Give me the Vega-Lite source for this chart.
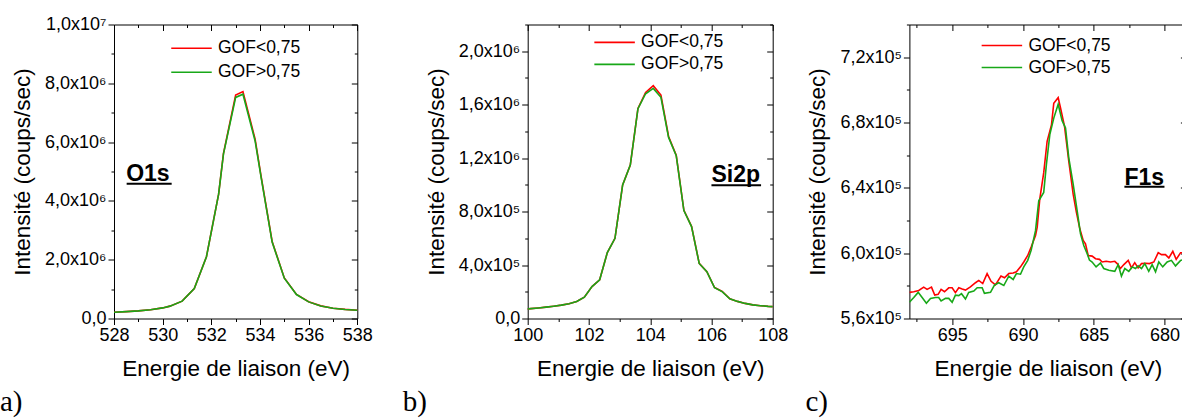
{
  "$schema": "https://vega.github.io/schema/vega-lite/v6.json",
  "padding": {"left": 0, "top": 15.5, "right": 0, "bottom": 0},
  "spacing": 136.7,
  "bounds": "flush",
  "resolve": {"scale": {"color": "independent"}, "legend": {"color": "independent"}},
  "config": {
    "view": {"stroke": null},
    "font": "Liberation Sans",
    "axis": {"domainColor": "#000000", "domainWidth": 1, "tickColor": "#000000", "tickWidth": 1, "labelColor": "#000000", "titleColor": "#000000", "labelFont": "Liberation Sans", "labelFontSize": 18, "titleFont": "Liberation Sans", "titleFontSize": 22.5, "titleFontWeight": "normal", "grid": false, "labelOverlap": false, "labelFlush": false, "labelBound": false, "labelPadding": 2},
    "legend": {"title": null, "orient": "none", "padding": 0, "rowPadding": 0, "symbolType": "stroke", "symbolSize": 1640, "symbolStrokeWidth": 1.6, "labelFont": "Liberation Sans", "labelFontSize": 17.5, "labelColor": "#000000", "labelOffset": 5},
    "title": {"font": "Liberation Serif", "fontSize": 29, "fontWeight": "normal", "color": "#000000", "orient": "bottom", "anchor": "start", "frame": "group", "baseline": "alphabetic"}
  },
  "hconcat": [
    {
      "width": 276.6,
      "height": 294,
      "title": {"text": "a)", "dx": -114, "offset": 8},
      "layer": [
        {
          "data": {"values": [
            {"E": 528, "I": 210000, "s": "GOF<0,75"},
            {"E": 528.5, "I": 235000, "s": "GOF<0,75"},
            {"E": 529, "I": 260000, "s": "GOF<0,75"},
            {"E": 529.5, "I": 300000, "s": "GOF<0,75"},
            {"E": 530, "I": 360000, "s": "GOF<0,75"},
            {"E": 530.3, "I": 420000, "s": "GOF<0,75"},
            {"E": 530.8, "I": 590000, "s": "GOF<0,75"},
            {"E": 531.3, "I": 1020000, "s": "GOF<0,75"},
            {"E": 531.8, "I": 2100000, "s": "GOF<0,75"},
            {"E": 532.3, "I": 4230000, "s": "GOF<0,75"},
            {"E": 532.5, "I": 5620000, "s": "GOF<0,75"},
            {"E": 533.0, "I": 7600000, "s": "GOF<0,75"},
            {"E": 533.3, "I": 7720000, "s": "GOF<0,75"},
            {"E": 533.8, "I": 6100000, "s": "GOF<0,75"},
            {"E": 534.05, "I": 4820000, "s": "GOF<0,75"},
            {"E": 534.5, "I": 2620000, "s": "GOF<0,75"},
            {"E": 535.0, "I": 1380000, "s": "GOF<0,75"},
            {"E": 535.5, "I": 820000, "s": "GOF<0,75"},
            {"E": 536.0, "I": 570000, "s": "GOF<0,75"},
            {"E": 536.5, "I": 430000, "s": "GOF<0,75"},
            {"E": 537.0, "I": 350000, "s": "GOF<0,75"},
            {"E": 537.5, "I": 310000, "s": "GOF<0,75"},
            {"E": 538, "I": 280000, "s": "GOF<0,75"},
            {"E": 528, "I": 210000, "s": "GOF>0,75"},
            {"E": 528.5, "I": 235000, "s": "GOF>0,75"},
            {"E": 529, "I": 260000, "s": "GOF>0,75"},
            {"E": 529.5, "I": 300000, "s": "GOF>0,75"},
            {"E": 530, "I": 360000, "s": "GOF>0,75"},
            {"E": 530.3, "I": 420000, "s": "GOF>0,75"},
            {"E": 530.8, "I": 590000, "s": "GOF>0,75"},
            {"E": 531.3, "I": 1020000, "s": "GOF>0,75"},
            {"E": 531.8, "I": 2100000, "s": "GOF>0,75"},
            {"E": 532.3, "I": 4230000, "s": "GOF>0,75"},
            {"E": 532.5, "I": 5600000, "s": "GOF>0,75"},
            {"E": 533.0, "I": 7520000, "s": "GOF>0,75"},
            {"E": 533.3, "I": 7630000, "s": "GOF>0,75"},
            {"E": 533.8, "I": 6040000, "s": "GOF>0,75"},
            {"E": 534.05, "I": 4780000, "s": "GOF>0,75"},
            {"E": 534.5, "I": 2600000, "s": "GOF>0,75"},
            {"E": 535.0, "I": 1370000, "s": "GOF>0,75"},
            {"E": 535.5, "I": 815000, "s": "GOF>0,75"},
            {"E": 536.0, "I": 565000, "s": "GOF>0,75"},
            {"E": 536.5, "I": 428000, "s": "GOF>0,75"},
            {"E": 537.0, "I": 348000, "s": "GOF>0,75"},
            {"E": 537.5, "I": 308000, "s": "GOF>0,75"},
            {"E": 538, "I": 278000, "s": "GOF>0,75"}
          ]},
          "mark": {"type": "line", "strokeWidth": 1.6, "clip": true},
          "encoding": {
            "x": {"field": "E", "type": "quantitative", "scale": {"domain": [528, 538], "range": [0, 243.3], "nice": false, "zero": false},
              "axis": {"orient": "bottom", "values": [528, 529, 530, 531, 532, 533, 534, 535, 536, 537, 538], "labelExpr": "datum.value % 2 == 0 ? format(datum.value, 'd') : ''", "tickSize": {"condition": {"test": "datum.value % 2 != 0", "value": 3}, "value": 6}, "title": "Energie de liaison (eV)", "titlePadding": 13}},
            "y": {"field": "I", "type": "quantitative", "scale": {"domain": [0, 10000000], "nice": false, "zero": false},
              "axis": {"orient": "left", "values": [0, 1000000, 2000000, 3000000, 4000000, 5000000, 6000000, 7000000, 8000000, 9000000, 10000000], "labelExpr": "datum.value % 2000000 != 0 ? '' : (datum.value == 0 ? '0,0' : replace(format(datum.value / pow(10, floor(log(datum.value) / LN10 + 1e-9)), '.1f'), '.', ',') + 'x10' + substring('⁰¹²³⁴⁵⁶⁷⁸⁹', floor(log(datum.value) / LN10 + 1e-9), floor(log(datum.value) / LN10 + 1e-9) + 1))", "tickSize": {"condition": {"test": "datum.value % 2000000 != 0", "value": 3}, "value": 6}, "title": "Intensité (coups/sec)", "titlePadding": 10}},
            "color": {"field": "s", "type": "nominal", "scale": {"domain": ["GOF<0,75", "GOF>0,75"], "range": ["#ff0000", "#18a818"]},
              "legend": {"orient": "none", "legendX": 56, "legendY": 12, "clipHeight": 23.4}}
          }
        },
        {
          "data": {"values": [{"x": 528.5, "y": 4690000, "t": "O1s"}]},
          "mark": {"type": "text", "align": "left", "baseline": "alphabetic", "font": "Liberation Sans", "fontWeight": "bold", "fontSize": 23, "color": "#000000"},
          "encoding": {
            "x": {"field": "x", "type": "quantitative", "scale": {"domain": [528, 538], "range": [0, 243.3], "nice": false, "zero": false},
              "axis": {"orient": "top", "values": [528, 529, 530, 531, 532, 533, 534, 535, 536, 537, 538], "labels": false, "title": null, "tickSize": {"condition": {"test": "datum.value % 2 != 0", "value": -3}, "value": -6}}},
            "y": {"field": "y", "type": "quantitative", "scale": {"domain": [0, 10000000], "nice": false, "zero": false},
              "axis": {"orient": "right", "offset": -33.3, "values": [0, 1000000, 2000000, 3000000, 4000000, 5000000, 6000000, 7000000, 8000000, 9000000, 10000000], "labels": false, "title": null, "tickSize": {"condition": {"test": "datum.value % 2000000 != 0", "value": -3}, "value": -6}}},
            "text": {"field": "t"}
          }
        },
        {
          "data": {"values": [{"x1": 528.52, "x2": 530.37, "y": 4580000}]},
          "mark": {"type": "rule", "strokeWidth": 2, "color": "#000000"},
          "encoding": {
            "x": {"field": "x1", "type": "quantitative", "scale": {"domain": [528, 538], "range": [0, 243.3], "nice": false, "zero": false}, "axis": null},
            "x2": {"field": "x2"},
            "y": {"field": "y", "type": "quantitative", "scale": {"domain": [0, 10000000], "nice": false, "zero": false}, "axis": null}
          }
        }
      ]
    },
    {
      "width": 245,
      "height": 294,
      "title": {"text": "b)", "dx": -125, "offset": 8},
      "layer": [
        {
          "data": {"values": [
            {"E": 99.85, "I": 68000, "s": "GOF<0,75"},
            {"E": 100.1, "I": 74000, "s": "GOF<0,75"},
            {"E": 100.35, "I": 79000, "s": "GOF<0,75"},
            {"E": 100.6, "I": 85000, "s": "GOF<0,75"},
            {"E": 100.85, "I": 92000, "s": "GOF<0,75"},
            {"E": 101.1, "I": 100000, "s": "GOF<0,75"},
            {"E": 101.35, "I": 110000, "s": "GOF<0,75"},
            {"E": 101.6, "I": 128000, "s": "GOF<0,75"},
            {"E": 101.85, "I": 160000, "s": "GOF<0,75"},
            {"E": 102.1, "I": 239000, "s": "GOF<0,75"},
            {"E": 102.35, "I": 290000, "s": "GOF<0,75"},
            {"E": 102.6, "I": 493000, "s": "GOF<0,75"},
            {"E": 102.85, "I": 600000, "s": "GOF<0,75"},
            {"E": 103.1, "I": 1000000, "s": "GOF<0,75"},
            {"E": 103.35, "I": 1148000, "s": "GOF<0,75"},
            {"E": 103.6, "I": 1572000, "s": "GOF<0,75"},
            {"E": 103.85, "I": 1692000, "s": "GOF<0,75"},
            {"E": 104.1, "I": 1742000, "s": "GOF<0,75"},
            {"E": 104.35, "I": 1672000, "s": "GOF<0,75"},
            {"E": 104.6, "I": 1362000, "s": "GOF<0,75"},
            {"E": 104.85, "I": 1222000, "s": "GOF<0,75"},
            {"E": 105.1, "I": 810000, "s": "GOF<0,75"},
            {"E": 105.35, "I": 690000, "s": "GOF<0,75"},
            {"E": 105.6, "I": 413000, "s": "GOF<0,75"},
            {"E": 105.85, "I": 351000, "s": "GOF<0,75"},
            {"E": 106.1, "I": 232000, "s": "GOF<0,75"},
            {"E": 106.35, "I": 202000, "s": "GOF<0,75"},
            {"E": 106.6, "I": 147000, "s": "GOF<0,75"},
            {"E": 106.85, "I": 128000, "s": "GOF<0,75"},
            {"E": 107.1, "I": 113000, "s": "GOF<0,75"},
            {"E": 107.35, "I": 102000, "s": "GOF<0,75"},
            {"E": 107.6, "I": 96000, "s": "GOF<0,75"},
            {"E": 107.85, "I": 91000, "s": "GOF<0,75"},
            {"E": 108.1, "I": 88000, "s": "GOF<0,75"},
            {"E": 99.85, "I": 68000, "s": "GOF>0,75"},
            {"E": 100.1, "I": 74000, "s": "GOF>0,75"},
            {"E": 100.35, "I": 79000, "s": "GOF>0,75"},
            {"E": 100.6, "I": 85000, "s": "GOF>0,75"},
            {"E": 100.85, "I": 92000, "s": "GOF>0,75"},
            {"E": 101.1, "I": 100000, "s": "GOF>0,75"},
            {"E": 101.35, "I": 110000, "s": "GOF>0,75"},
            {"E": 101.6, "I": 128000, "s": "GOF>0,75"},
            {"E": 101.85, "I": 160000, "s": "GOF>0,75"},
            {"E": 102.1, "I": 239000, "s": "GOF>0,75"},
            {"E": 102.35, "I": 290000, "s": "GOF>0,75"},
            {"E": 102.6, "I": 493000, "s": "GOF>0,75"},
            {"E": 102.85, "I": 600000, "s": "GOF>0,75"},
            {"E": 103.1, "I": 1000000, "s": "GOF>0,75"},
            {"E": 103.35, "I": 1148000, "s": "GOF>0,75"},
            {"E": 103.6, "I": 1570000, "s": "GOF>0,75"},
            {"E": 103.85, "I": 1682000, "s": "GOF>0,75"},
            {"E": 104.1, "I": 1722000, "s": "GOF>0,75"},
            {"E": 104.35, "I": 1655000, "s": "GOF>0,75"},
            {"E": 104.6, "I": 1355000, "s": "GOF>0,75"},
            {"E": 104.85, "I": 1218000, "s": "GOF>0,75"},
            {"E": 105.1, "I": 808000, "s": "GOF>0,75"},
            {"E": 105.35, "I": 688000, "s": "GOF>0,75"},
            {"E": 105.6, "I": 412000, "s": "GOF>0,75"},
            {"E": 105.85, "I": 350000, "s": "GOF>0,75"},
            {"E": 106.1, "I": 231000, "s": "GOF>0,75"},
            {"E": 106.35, "I": 201000, "s": "GOF>0,75"},
            {"E": 106.6, "I": 147000, "s": "GOF>0,75"},
            {"E": 106.85, "I": 128000, "s": "GOF>0,75"},
            {"E": 107.1, "I": 113000, "s": "GOF>0,75"},
            {"E": 107.35, "I": 102000, "s": "GOF>0,75"},
            {"E": 107.6, "I": 96000, "s": "GOF>0,75"},
            {"E": 107.85, "I": 91000, "s": "GOF>0,75"},
            {"E": 108.1, "I": 88000, "s": "GOF>0,75"}
          ]},
          "mark": {"type": "line", "strokeWidth": 1.6, "clip": true},
          "encoding": {
            "x": {"field": "E", "type": "quantitative", "scale": {"domain": [100, 108], "nice": false, "zero": false},
              "axis": {"orient": "bottom", "values": [100, 101, 102, 103, 104, 105, 106, 107, 108], "labelExpr": "datum.value % 2 == 0 ? format(datum.value, 'd') : ''", "tickSize": {"condition": {"test": "datum.value % 2 != 0", "value": 3}, "value": 6}, "title": "Energie de liaison (eV)", "titlePadding": 13}},
            "y": {"field": "I", "type": "quantitative", "scale": {"domain": [0, 2200000], "nice": false, "zero": false},
              "axis": {"orient": "left", "values": [0, 200000, 400000, 600000, 800000, 1000000, 1200000, 1400000, 1600000, 1800000, 2000000, 2200000], "labelExpr": "datum.value % 400000 != 0 ? '' : (datum.value == 0 ? '0,0' : replace(format(datum.value / pow(10, floor(log(datum.value) / LN10 + 1e-9)), '.1f'), '.', ',') + 'x10' + substring('⁰¹²³⁴⁵⁶⁷⁸⁹', floor(log(datum.value) / LN10 + 1e-9), floor(log(datum.value) / LN10 + 1e-9) + 1))", "tickSize": {"condition": {"test": "datum.value % 400000 != 0", "value": 3}, "value": 6}, "title": "Intensité (coups/sec)", "titlePadding": 10}},
            "color": {"field": "s", "type": "nominal", "scale": {"domain": ["GOF<0,75", "GOF>0,75"], "range": ["#ff0000", "#18a818"]},
              "legend": {"orient": "none", "legendX": 65.4, "legendY": 7, "clipHeight": 21.7}}
          }
        },
        {
          "data": {"values": [{"x": 106.0, "y": 1024000, "t": "Si2p"}]},
          "mark": {"type": "text", "align": "left", "baseline": "alphabetic", "font": "Liberation Sans", "fontWeight": "bold", "fontSize": 23, "color": "#000000"},
          "encoding": {
            "x": {"field": "x", "type": "quantitative", "scale": {"domain": [100, 108], "nice": false, "zero": false},
              "axis": {"orient": "top", "values": [100, 101, 102, 103, 104, 105, 106, 107, 108], "labels": false, "title": null, "tickSize": {"condition": {"test": "datum.value % 2 != 0", "value": -3}, "value": -6}}},
            "y": {"field": "y", "type": "quantitative", "scale": {"domain": [0, 2200000], "nice": false, "zero": false},
              "axis": {"orient": "right", "values": [0, 200000, 400000, 600000, 800000, 1000000, 1200000, 1400000, 1600000, 1800000, 2000000, 2200000], "labels": false, "title": null, "tickSize": {"condition": {"test": "datum.value % 400000 != 0", "value": -3}, "value": -6}}},
            "text": {"field": "t"}
          }
        },
        {
          "data": {"values": [{"x1": 106.0, "x2": 107.62, "y": 998000}]},
          "mark": {"type": "rule", "strokeWidth": 2, "color": "#000000"},
          "encoding": {
            "x": {"field": "x1", "type": "quantitative", "scale": {"domain": [100, 108], "nice": false, "zero": false}, "axis": null},
            "x2": {"field": "x2"},
            "y": {"field": "y", "type": "quantitative", "scale": {"domain": [0, 2200000], "nice": false, "zero": false}, "axis": null}
          }
        }
      ]
    },
    {
      "width": 277,
      "height": 294,
      "title": {"text": "c)", "dx": -104, "offset": 8},
      "layer": [
        {
          "data": {"values": [
            {"E": 698.02, "I": 576000, "s": "GOF<0,75"},
            {"E": 697.71, "I": 576400, "s": "GOF<0,75"},
            {"E": 697.36, "I": 577200, "s": "GOF<0,75"},
            {"E": 697.01, "I": 579200, "s": "GOF<0,75"},
            {"E": 696.77, "I": 577800, "s": "GOF<0,75"},
            {"E": 696.46, "I": 579200, "s": "GOF<0,75"},
            {"E": 696.23, "I": 574300, "s": "GOF<0,75"},
            {"E": 695.99, "I": 574800, "s": "GOF<0,75"},
            {"E": 695.78, "I": 577800, "s": "GOF<0,75"},
            {"E": 695.54, "I": 576400, "s": "GOF<0,75"},
            {"E": 695.24, "I": 578800, "s": "GOF<0,75"},
            {"E": 695.0, "I": 578800, "s": "GOF<0,75"},
            {"E": 694.77, "I": 575800, "s": "GOF<0,75"},
            {"E": 694.53, "I": 578800, "s": "GOF<0,75"},
            {"E": 694.29, "I": 578000, "s": "GOF<0,75"},
            {"E": 694.06, "I": 577400, "s": "GOF<0,75"},
            {"E": 693.71, "I": 579400, "s": "GOF<0,75"},
            {"E": 693.35, "I": 581900, "s": "GOF<0,75"},
            {"E": 693.12, "I": 583300, "s": "GOF<0,75"},
            {"E": 692.84, "I": 581400, "s": "GOF<0,75"},
            {"E": 692.53, "I": 587500, "s": "GOF<0,75"},
            {"E": 692.25, "I": 582800, "s": "GOF<0,75"},
            {"E": 691.94, "I": 580600, "s": "GOF<0,75"},
            {"E": 691.55, "I": 586000, "s": "GOF<0,75"},
            {"E": 691.3, "I": 584900, "s": "GOF<0,75"},
            {"E": 691.0, "I": 587500, "s": "GOF<0,75"},
            {"E": 690.69, "I": 587900, "s": "GOF<0,75"},
            {"E": 690.46, "I": 588600, "s": "GOF<0,75"},
            {"E": 690.17, "I": 591600, "s": "GOF<0,75"},
            {"E": 689.94, "I": 594600, "s": "GOF<0,75"},
            {"E": 689.66, "I": 598600, "s": "GOF<0,75"},
            {"E": 689.42, "I": 603700, "s": "GOF<0,75"},
            {"E": 689.11, "I": 610800, "s": "GOF<0,75"},
            {"E": 688.99, "I": 615900, "s": "GOF<0,75"},
            {"E": 688.81, "I": 633100, "s": "GOF<0,75"},
            {"E": 688.53, "I": 649300, "s": "GOF<0,75"},
            {"E": 688.29, "I": 668500, "s": "GOF<0,75"},
            {"E": 687.98, "I": 678700, "s": "GOF<0,75"},
            {"E": 687.82, "I": 691800, "s": "GOF<0,75"},
            {"E": 687.51, "I": 695200, "s": "GOF<0,75"},
            {"E": 687.35, "I": 689200, "s": "GOF<0,75"},
            {"E": 687.06, "I": 677600, "s": "GOF<0,75"},
            {"E": 686.76, "I": 656400, "s": "GOF<0,75"},
            {"E": 686.45, "I": 636100, "s": "GOF<0,75"},
            {"E": 686.22, "I": 625000, "s": "GOF<0,75"},
            {"E": 685.98, "I": 614900, "s": "GOF<0,75"},
            {"E": 685.74, "I": 607800, "s": "GOF<0,75"},
            {"E": 685.58, "I": 605700, "s": "GOF<0,75"},
            {"E": 685.39, "I": 598600, "s": "GOF<0,75"},
            {"E": 685.11, "I": 598200, "s": "GOF<0,75"},
            {"E": 684.87, "I": 596600, "s": "GOF<0,75"},
            {"E": 684.59, "I": 596200, "s": "GOF<0,75"},
            {"E": 684.4, "I": 594600, "s": "GOF<0,75"},
            {"E": 684.12, "I": 595000, "s": "GOF<0,75"},
            {"E": 683.81, "I": 594600, "s": "GOF<0,75"},
            {"E": 683.51, "I": 595000, "s": "GOF<0,75"},
            {"E": 683.34, "I": 593600, "s": "GOF<0,75"},
            {"E": 683.11, "I": 590600, "s": "GOF<0,75"},
            {"E": 682.87, "I": 593000, "s": "GOF<0,75"},
            {"E": 682.56, "I": 595600, "s": "GOF<0,75"},
            {"E": 682.33, "I": 591000, "s": "GOF<0,75"},
            {"E": 682.1, "I": 594200, "s": "GOF<0,75"},
            {"E": 681.86, "I": 591000, "s": "GOF<0,75"},
            {"E": 681.62, "I": 593600, "s": "GOF<0,75"},
            {"E": 681.34, "I": 593800, "s": "GOF<0,75"},
            {"E": 681.06, "I": 593600, "s": "GOF<0,75"},
            {"E": 680.75, "I": 594600, "s": "GOF<0,75"},
            {"E": 680.44, "I": 600300, "s": "GOF<0,75"},
            {"E": 680.21, "I": 599100, "s": "GOF<0,75"},
            {"E": 679.93, "I": 599100, "s": "GOF<0,75"},
            {"E": 679.69, "I": 597100, "s": "GOF<0,75"},
            {"E": 679.41, "I": 601100, "s": "GOF<0,75"},
            {"E": 679.17, "I": 596200, "s": "GOF<0,75"},
            {"E": 678.86, "I": 600300, "s": "GOF<0,75"},
            {"E": 678.58, "I": 600300, "s": "GOF<0,75"},
            {"E": 698.02, "I": 569900, "s": "GOF>0,75"},
            {"E": 697.71, "I": 572800, "s": "GOF>0,75"},
            {"E": 697.4, "I": 576000, "s": "GOF>0,75"},
            {"E": 697.12, "I": 572800, "s": "GOF>0,75"},
            {"E": 696.82, "I": 569300, "s": "GOF>0,75"},
            {"E": 696.53, "I": 572300, "s": "GOF>0,75"},
            {"E": 696.18, "I": 572900, "s": "GOF>0,75"},
            {"E": 695.95, "I": 572900, "s": "GOF>0,75"},
            {"E": 695.78, "I": 570700, "s": "GOF>0,75"},
            {"E": 695.47, "I": 572300, "s": "GOF>0,75"},
            {"E": 695.24, "I": 572300, "s": "GOF>0,75"},
            {"E": 695.0, "I": 569900, "s": "GOF>0,75"},
            {"E": 694.77, "I": 574300, "s": "GOF>0,75"},
            {"E": 694.53, "I": 574000, "s": "GOF>0,75"},
            {"E": 694.34, "I": 575200, "s": "GOF>0,75"},
            {"E": 694.06, "I": 571900, "s": "GOF>0,75"},
            {"E": 693.83, "I": 576000, "s": "GOF>0,75"},
            {"E": 693.47, "I": 576800, "s": "GOF>0,75"},
            {"E": 693.23, "I": 578800, "s": "GOF>0,75"},
            {"E": 692.88, "I": 578800, "s": "GOF>0,75"},
            {"E": 692.72, "I": 575400, "s": "GOF>0,75"},
            {"E": 692.29, "I": 576000, "s": "GOF>0,75"},
            {"E": 692.01, "I": 580400, "s": "GOF>0,75"},
            {"E": 691.71, "I": 581900, "s": "GOF>0,75"},
            {"E": 691.35, "I": 580200, "s": "GOF>0,75"},
            {"E": 691.0, "I": 585900, "s": "GOF>0,75"},
            {"E": 690.69, "I": 583900, "s": "GOF>0,75"},
            {"E": 690.46, "I": 587500, "s": "GOF>0,75"},
            {"E": 690.17, "I": 587100, "s": "GOF>0,75"},
            {"E": 689.94, "I": 591600, "s": "GOF>0,75"},
            {"E": 689.66, "I": 595600, "s": "GOF>0,75"},
            {"E": 689.42, "I": 601700, "s": "GOF>0,75"},
            {"E": 689.11, "I": 613800, "s": "GOF>0,75"},
            {"E": 688.88, "I": 632100, "s": "GOF>0,75"},
            {"E": 688.53, "I": 637200, "s": "GOF>0,75"},
            {"E": 688.34, "I": 654400, "s": "GOF>0,75"},
            {"E": 688.1, "I": 672600, "s": "GOF>0,75"},
            {"E": 687.82, "I": 682700, "s": "GOF>0,75"},
            {"E": 687.51, "I": 691200, "s": "GOF>0,75"},
            {"E": 687.23, "I": 681100, "s": "GOF>0,75"},
            {"E": 686.99, "I": 676600, "s": "GOF>0,75"},
            {"E": 686.76, "I": 658400, "s": "GOF>0,75"},
            {"E": 686.45, "I": 642200, "s": "GOF>0,75"},
            {"E": 686.17, "I": 626000, "s": "GOF>0,75"},
            {"E": 685.93, "I": 611800, "s": "GOF>0,75"},
            {"E": 685.7, "I": 604700, "s": "GOF>0,75"},
            {"E": 685.46, "I": 599700, "s": "GOF>0,75"},
            {"E": 685.3, "I": 595800, "s": "GOF>0,75"},
            {"E": 685.11, "I": 594600, "s": "GOF>0,75"},
            {"E": 684.83, "I": 591600, "s": "GOF>0,75"},
            {"E": 684.52, "I": 594000, "s": "GOF>0,75"},
            {"E": 684.29, "I": 590600, "s": "GOF>0,75"},
            {"E": 683.93, "I": 589500, "s": "GOF>0,75"},
            {"E": 683.51, "I": 588900, "s": "GOF>0,75"},
            {"E": 683.27, "I": 593000, "s": "GOF>0,75"},
            {"E": 683.04, "I": 585900, "s": "GOF>0,75"},
            {"E": 682.8, "I": 590600, "s": "GOF>0,75"},
            {"E": 682.52, "I": 588900, "s": "GOF>0,75"},
            {"E": 682.28, "I": 591600, "s": "GOF>0,75"},
            {"E": 682.05, "I": 590600, "s": "GOF>0,75"},
            {"E": 681.86, "I": 592200, "s": "GOF>0,75"},
            {"E": 681.62, "I": 590600, "s": "GOF>0,75"},
            {"E": 681.39, "I": 593600, "s": "GOF>0,75"},
            {"E": 681.11, "I": 588900, "s": "GOF>0,75"},
            {"E": 680.87, "I": 593000, "s": "GOF>0,75"},
            {"E": 680.63, "I": 588600, "s": "GOF>0,75"},
            {"E": 680.4, "I": 594600, "s": "GOF>0,75"},
            {"E": 680.12, "I": 591600, "s": "GOF>0,75"},
            {"E": 679.81, "I": 594600, "s": "GOF>0,75"},
            {"E": 679.51, "I": 595600, "s": "GOF>0,75"},
            {"E": 679.22, "I": 592200, "s": "GOF>0,75"},
            {"E": 678.86, "I": 595600, "s": "GOF>0,75"},
            {"E": 678.58, "I": 596200, "s": "GOF>0,75"}
          ]},
          "mark": {"type": "line", "strokeWidth": 1.6, "clip": true},
          "encoding": {
            "x": {"field": "E", "type": "quantitative", "scale": {"domain": [678.45, 698.02], "reverse": true, "nice": false, "zero": false},
              "axis": {"orient": "bottom", "values": [680, 682.5, 685, 687.5, 690, 692.5, 695, 697.5], "labelExpr": "datum.value % 5 == 0 ? format(datum.value, 'd') : ''", "tickSize": {"condition": {"test": "datum.value % 5 != 0", "value": 3}, "value": 6}, "title": "Energie de liaison (eV)", "titlePadding": 13}},
            "y": {"field": "I", "type": "quantitative", "scale": {"domain": [560000, 740000], "nice": false, "zero": false},
              "axis": {"orient": "left", "values": [560000, 580000, 600000, 620000, 640000, 660000, 680000, 700000, 720000, 740000], "labelExpr": "datum.value % 40000 != 0 ? '' : (datum.value == 0 ? '0,0' : replace(format(datum.value / pow(10, floor(log(datum.value) / LN10 + 1e-9)), '.1f'), '.', ',') + 'x10' + substring('⁰¹²³⁴⁵⁶⁷⁸⁹', floor(log(datum.value) / LN10 + 1e-9), floor(log(datum.value) / LN10 + 1e-9) + 1))", "tickSize": {"condition": {"test": "datum.value % 40000 != 0", "value": 3}, "value": 6}, "title": "Intensité (coups/sec)", "titlePadding": 10}},
            "color": {"field": "s", "type": "nominal", "scale": {"domain": ["GOF<0,75", "GOF>0,75"], "range": ["#ff0000", "#18a818"]},
              "legend": {"orient": "none", "legendX": 71, "legendY": 10, "clipHeight": 22}}
          }
        },
        {
          "data": {"values": [{"x": 682.83, "y": 642000, "t": "F1s"}]},
          "mark": {"type": "text", "align": "left", "baseline": "alphabetic", "font": "Liberation Sans", "fontWeight": "bold", "fontSize": 23, "color": "#000000"},
          "encoding": {
            "x": {"field": "x", "type": "quantitative", "scale": {"domain": [678.45, 698.02], "reverse": true, "nice": false, "zero": false},
              "axis": {"orient": "top", "values": [680, 682.5, 685, 687.5, 690, 692.5, 695, 697.5], "labels": false, "title": null, "tickSize": {"condition": {"test": "datum.value % 5 != 0", "value": -3}, "value": -6}}},
            "y": {"field": "y", "type": "quantitative", "scale": {"domain": [560000, 740000], "nice": false, "zero": false},
              "axis": {"orient": "right", "values": [560000, 580000, 600000, 620000, 640000, 660000, 680000, 700000, 720000, 740000], "labels": false, "title": null, "tickSize": {"condition": {"test": "datum.value % 40000 != 0", "value": -3}, "value": -6}}},
            "text": {"field": "t"}
          }
        },
        {
          "data": {"values": [{"x1": 682.83, "x2": 680.0, "y": 640600}]},
          "mark": {"type": "rule", "strokeWidth": 2, "color": "#000000"},
          "encoding": {
            "x": {"field": "x1", "type": "quantitative", "scale": {"domain": [678.45, 698.02], "reverse": true, "nice": false, "zero": false}, "axis": null},
            "x2": {"field": "x2"},
            "y": {"field": "y", "type": "quantitative", "scale": {"domain": [560000, 740000], "nice": false, "zero": false}, "axis": null}
          }
        }
      ]
    }
  ]
}
